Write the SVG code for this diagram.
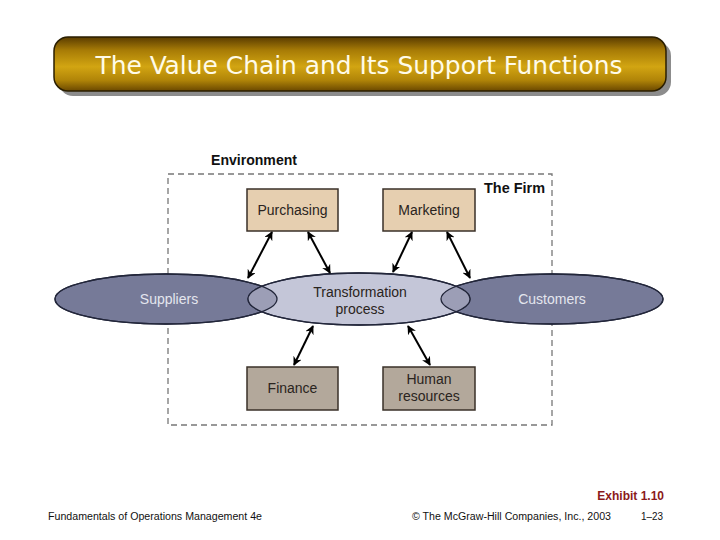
<svg xmlns="http://www.w3.org/2000/svg" width="720" height="540" viewBox="0 0 720 540">
<defs>
<linearGradient id="gold" x1="0" y1="0" x2="0" y2="1">
<stop offset="0" stop-color="#5a3c00"/>
<stop offset="0.25" stop-color="#a87c06"/>
<stop offset="0.55" stop-color="#d2a512"/>
<stop offset="0.8" stop-color="#b08408"/>
<stop offset="1" stop-color="#6a4800"/>
</linearGradient>
<marker id="ah" viewBox="0 0 10 10" refX="9" refY="5" markerWidth="9" markerHeight="9" markerUnits="userSpaceOnUse" orient="auto-start-reverse">
<path d="M0,0 L10,5 L0,10 L3,5 Z" fill="#000"/>
</marker>
<clipPath id="tclip"><ellipse cx="359" cy="299" rx="111" ry="26"/></clipPath>
<style>
.box{stroke:#3a3128;stroke-width:1.5}
.lbl{font-family:"Liberation Sans",Arial,sans-serif;font-size:14px;fill:#2a2420;text-anchor:middle}
.elbl{font-family:"Liberation Sans",Arial,sans-serif;font-size:14px;fill:#e4e6ee;text-anchor:middle}
.ell{stroke:#22263a;stroke-width:1.3}
.con{stroke:#000;stroke-width:2;fill:none;marker-start:url(#ah);marker-end:url(#ah)}
.hd{font-family:"Liberation Sans",Arial,sans-serif;font-size:14px;font-weight:bold;fill:#111}
.ft{font-family:"Liberation Sans",Arial,sans-serif;font-size:10px;fill:#111}
</style>
</defs>
<rect width="720" height="540" fill="#fff"/>
<g id="title">
<rect x="59" y="42" width="612" height="54" rx="14" fill="#8c8c8c"/>
<rect x="54" y="37" width="612" height="54" rx="14" fill="url(#gold)" stroke="#2a1e00" stroke-width="1.5"/>
<text x="359" y="74" text-anchor="middle" font-family="'DejaVu Sans Condensed','Liberation Sans',sans-serif" font-size="24" fill="#fffbe8" textLength="527" lengthAdjust="spacingAndGlyphs">The Value Chain and Its Support Functions</text>
</g>
<g id="environment">
<text class="hd" x="211" y="165" textLength="86" lengthAdjust="spacingAndGlyphs">Environment</text>
</g>
<g id="firm">
<rect x="168" y="174" width="384" height="251" fill="none" stroke="#777" stroke-width="1.3" stroke-dasharray="6,4"/>
<text class="hd" x="545" y="193" text-anchor="end" textLength="61" lengthAdjust="spacingAndGlyphs">The Firm</text>
</g>
<g id="suppliers">
<ellipse class="ell" cx="166" cy="299" rx="111" ry="25" fill="#767a98"/>
</g>
<g id="customers">
<ellipse class="ell" cx="552" cy="299" rx="111" ry="25" fill="#767a98"/>
</g>
<g id="transformation">
<ellipse class="ell" cx="359" cy="299" rx="111" ry="26" fill="#c4c6d8"/>
<g clip-path="url(#tclip)">
<ellipse cx="166" cy="299" rx="111" ry="25" fill="#9c9eb6"/>
<ellipse cx="552" cy="299" rx="111" ry="25" fill="#9c9eb6"/>
</g>
<ellipse class="ell" cx="166" cy="299" rx="111" ry="25" fill="none"/>
<ellipse class="ell" cx="552" cy="299" rx="111" ry="25" fill="none"/>
<ellipse class="ell" cx="359" cy="299" rx="111" ry="26" fill="none"/>
<text class="lbl" x="360" y="297">Transformation</text>
<text class="lbl" x="360" y="314">process</text>
</g>
<text class="elbl" x="169" y="304">Suppliers</text>
<text class="elbl" x="552" y="304">Customers</text>
<g id="purchasing">
<rect class="box" x="247" y="189" width="91" height="42" fill="#e6cfb0"/>
<text class="lbl" x="292.5" y="215">Purchasing</text>
</g>
<g id="marketing">
<rect class="box" x="383" y="189" width="92" height="42" fill="#e6cfb0"/>
<text class="lbl" x="429" y="215">Marketing</text>
</g>
<g id="finance">
<rect class="box" x="247" y="367" width="91" height="43" fill="#b3a89b"/>
<text class="lbl" x="292.5" y="393">Finance</text>
</g>
<g id="hr">
<rect class="box" x="383" y="367" width="92" height="43" fill="#b3a89b"/>
<text class="lbl" x="429" y="384">Human</text>
<text class="lbl" x="429" y="401">resources</text>
</g>
<g id="connectors">
<line class="con" x1="272" y1="232" x2="248" y2="278"/>
<line class="con" x1="308" y1="232" x2="330" y2="273"/>
<line class="con" x1="412" y1="232" x2="393" y2="272"/>
<line class="con" x1="447" y1="232" x2="470" y2="278"/>
<line class="con" x1="313" y1="326" x2="294" y2="365"/>
<line class="con" x1="408" y1="326" x2="430" y2="365"/>
</g>
<g id="footer">
<text x="664" y="500" text-anchor="end" font-family="'Liberation Sans',Arial,sans-serif" font-size="12" font-weight="bold" fill="#8b1a1a">Exhibit 1.10</text>
<text class="ft" x="48" y="520" textLength="214" lengthAdjust="spacingAndGlyphs">Fundamentals of Operations Management 4e</text>
<text class="ft" x="412" y="520" textLength="199" lengthAdjust="spacingAndGlyphs">© The McGraw-Hill Companies, Inc., 2003</text>
<text class="ft" x="641" y="520" textLength="22" lengthAdjust="spacingAndGlyphs">1–23</text>
</g>
</svg>
